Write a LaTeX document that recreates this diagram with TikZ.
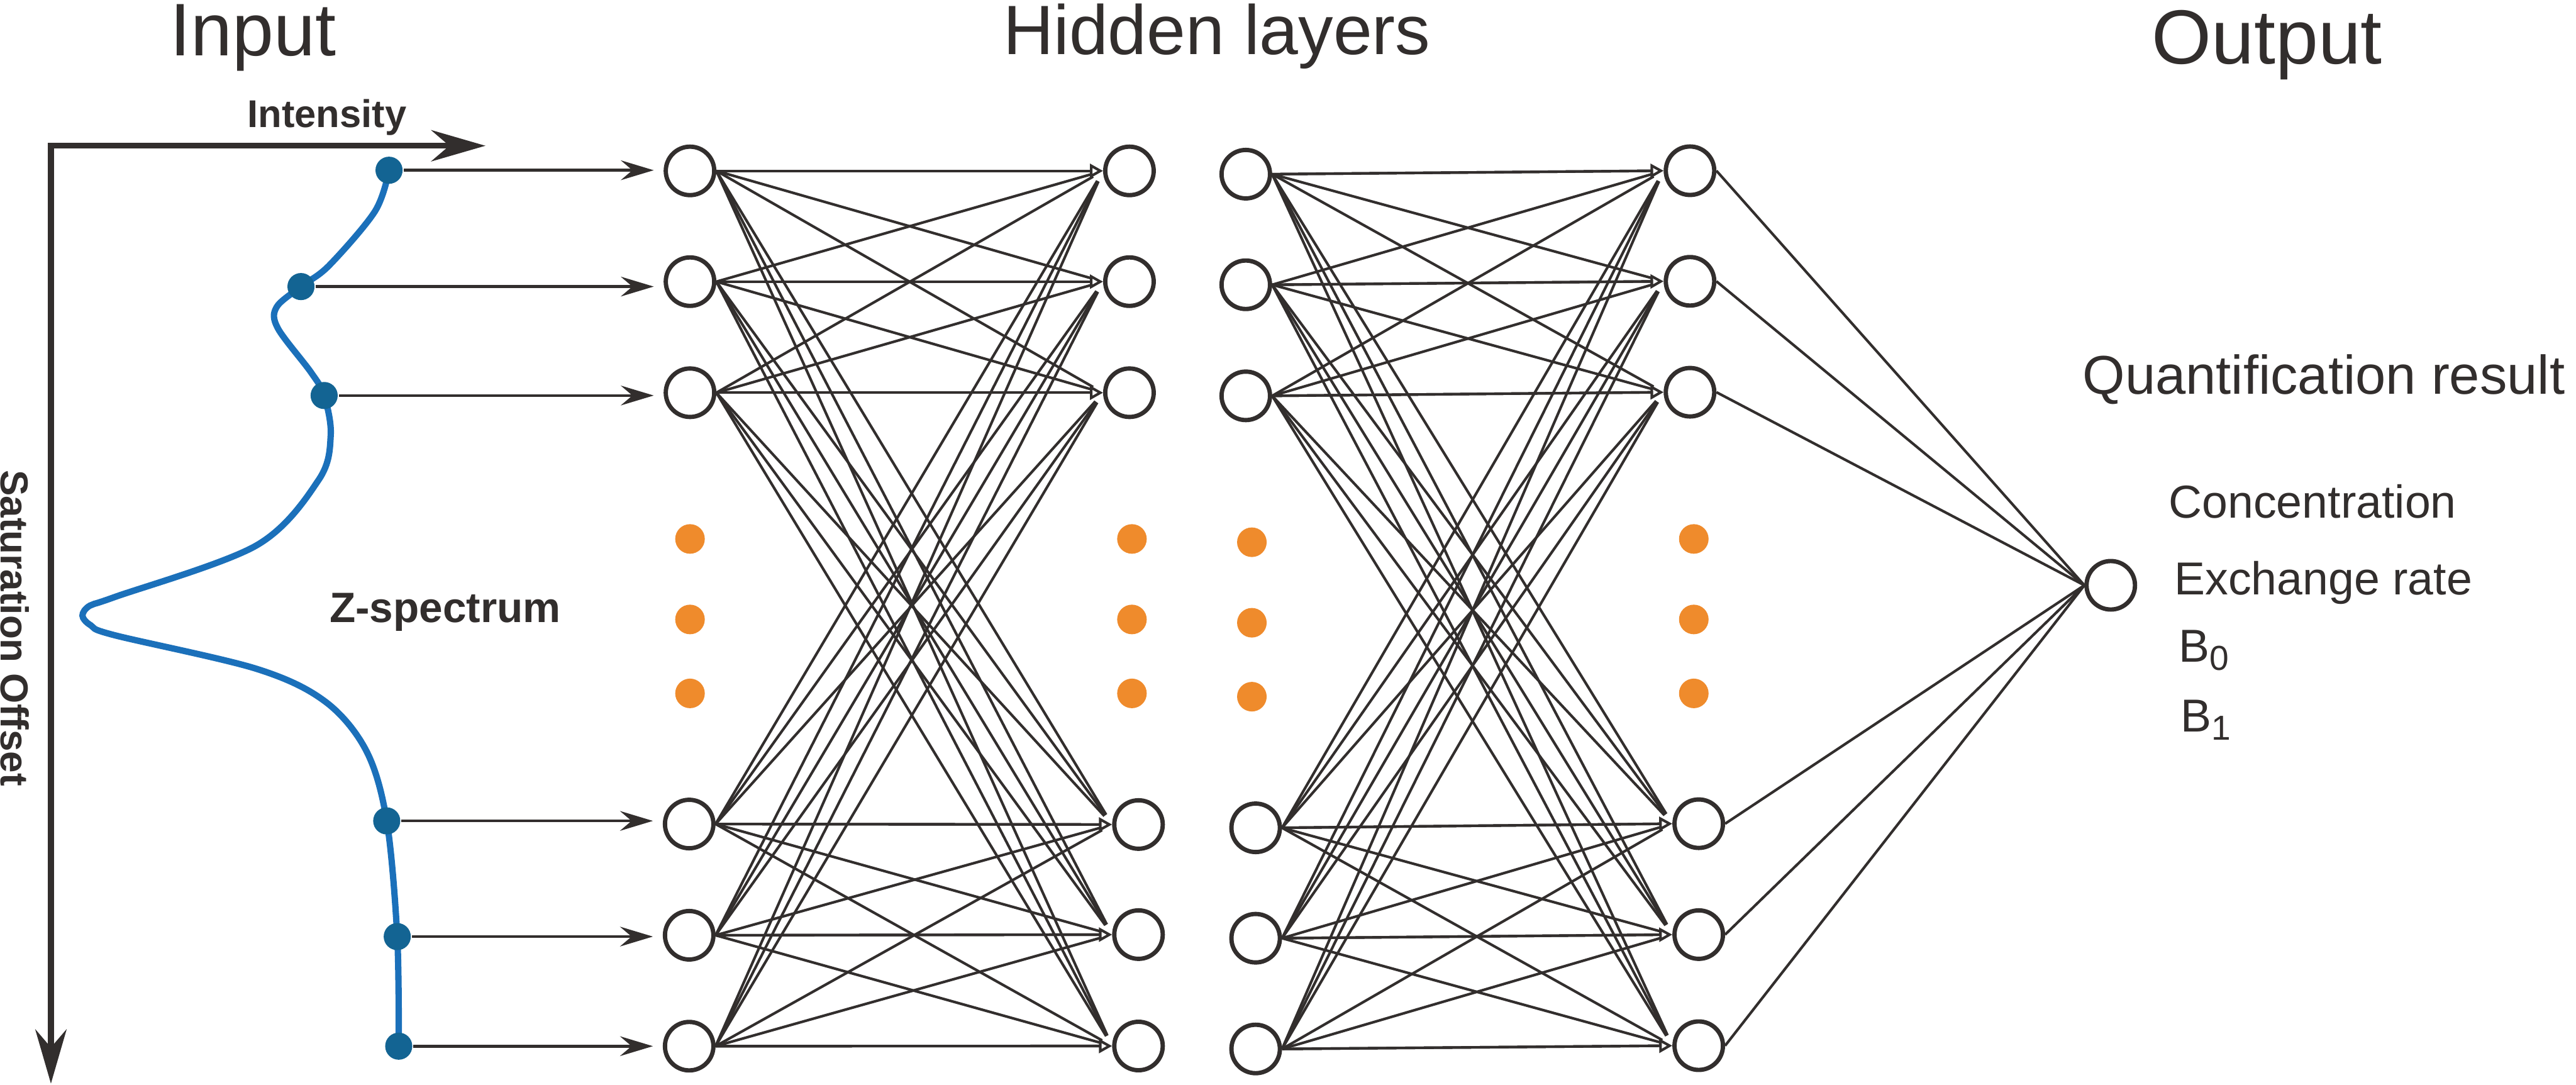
\documentclass[tikz,border=0pt]{standalone}
\usepackage{fontspec}
\setmainfont{Liberation Sans}
\usetikzlibrary{arrows.meta,calc}
\definecolor{nninkgray}{HTML}{322E2D}
\definecolor{nnzblue}{HTML}{1B70BA}
\definecolor{nndotblue}{HTML}{136493}
\definecolor{nnorange}{HTML}{EF8B2C}

\begin{document}
\begin{tikzpicture}[
    neuron/.style={draw=nninkgray, circle, line width=0.75pt, minimum size=2.95mm, inner sep=0pt, fill=white},
    ellip/.style={circle, fill=nnorange, minimum size=1.8mm, inner sep=0pt},
    sample/.style={circle, fill=nndotblue, minimum size=1.65mm, inner sep=0pt},
    link/.style={draw=nninkgray, line width=0.45pt, shorten >=0.7mm},
    linktip/.style={draw=nninkgray, line width=0.45pt, -{Triangle[open, length=0.8mm, width=0.85mm]}},
    feed/.style={draw=nninkgray, line width=0.5pt, -{Stealth[length=2mm, width=1.2mm, inset=0.7mm]}, shorten >=0.6mm},
    axisline/.style={draw=nninkgray, line width=1pt, >={Stealth[length=3.3mm, width=1.9mm, inset=1.1mm]}, <->},
    title/.style={anchor=base west, inner sep=0pt, text=nninkgray},
    label/.style={anchor=base west, inner sep=0pt, text=nninkgray, font=\fontsize{8}{9.6}\selectfont},
    axislabel/.style={anchor=base, inner sep=0pt, text=nninkgray, font=\bfseries\fontsize{6.7}{8}\selectfont},
]
\useasboundingbox (0,0) rectangle (15.68,-6.60);

% Titles
\node[title, font=\fontsize{12.9}{15}\selectfont] (ttl-in) at (1.03,-0.34) {Input};
\node[title, font=\fontsize{12.1}{14}\selectfont] (ttl-hid) at (6.10,-0.33) {Hidden layers};
\node[title, font=\fontsize{13.3}{16}\selectfont] (ttl-out) at (13.09,-0.39) {Output};

% Z-spectrum axes
\coordinate (xtip) at (2.955,-0.887);
\coordinate (corner) at (0.31,-0.887);
\coordinate (ytip) at (0.31,-6.595);
\draw[axisline] (xtip) -- (corner) -- (ytip);
\node[axislabel] (ilab) at (1.99,-0.775) {Intensity};
\node[axislabel, rotate=-90, font=\bfseries\fontsize{6.75}{8}\selectfont] (slab) at (0.005,-3.823) {Saturation Offset};
\node[axislabel, anchor=base west, font=\bfseries\fontsize{7.35}{9}\selectfont] (zlab) at (2.00,-3.788) {Z-spectrum};

% Z-spectrum curve
\draw[nnzblue, line width=1.1pt] plot[smooth, tension=0.55] coordinates {
    (2.368,-1.036) (2.283,-1.285) (2.003,-1.616) (1.832,-1.744) (1.683,-1.87)
    (1.692,-1.999) (1.893,-2.266) (1.973,-2.407) (2.013,-2.65) (1.94,-2.92)
    (1.56,-3.32) (0.694,-3.635) (0.547,-3.686) (0.502,-3.747) (0.553,-3.806)
    (0.694,-3.865) (1.56,-4.07) (1.98,-4.27) (2.23,-4.57) (2.354,-4.996)
    (2.418,-5.70) (2.427,-6.367)};

% Sampled offsets
\foreach \n/\x/\y in {1/2.368/1.036, 2/1.832/1.744, 3/1.973/2.407, 4/2.354/4.996, 5/2.418/5.70, 6/2.427/6.367}
    \node[sample] (d\n) at (\x,-\y) {};

% Layers
\foreach \n/\x/\y in {1/4.20/1.04, 2/4.20/1.714, 3/4.20/2.39, 4/4.195/5.015, 5/4.195/5.692, 6/4.195/6.367}
    \node[neuron] (l1-\n) at (\x,-\y) {};
\foreach \n/\x/\y in {1/6.875/1.04, 2/6.875/1.714, 3/6.875/2.39, 4/6.93/5.018, 5/6.93/5.688, 6/6.93/6.366}
    \node[neuron] (l2-\n) at (\x,-\y) {};
\foreach \n/\x/\y in {1/7.583/1.06, 2/7.583/1.733, 3/7.583/2.409, 4/7.643/5.038, 5/7.643/5.71, 6/7.643/6.384}
    \node[neuron] (l3-\n) at (\x,-\y) {};
\foreach \n/\x/\y in {1/10.287/1.039, 2/10.287/1.712, 3/10.287/2.387, 4/10.34/5.013, 5/10.34/5.688, 6/10.34/6.364}
    \node[neuron] (l4-\n) at (\x,-\y) {};
\node[neuron] (out) at (12.848,-3.562) {};

% Ellipsis dots
\foreach \x/\s [count=\c] in {4.20/0, 6.89/0, 7.62/0.02, 10.31/0}
    \foreach \y [count=\r] in {3.28, 3.77, 4.22}
        \node[ellip] (gap-\c-\r) at (\x,-\y-\s) {};

% Connections
\foreach \n in {1,...,6}
    \draw[feed] (d\n) -- (d\n -| l1-\n.west);
\foreach \i in {1,...,6}
    \foreach \j in {1,...,6} {
        \draw[link] (l1-\i.east) -- (l2-\j.west);
        \draw[link] (l3-\i.east) -- (l4-\j.west);
    }
\foreach \i in {1,...,6} {
    \draw[linktip] (l1-\i.east) -- (l2-\i.west);
    \draw[linktip] (l3-\i.east) -- (l4-\i.west);
    \draw[link, shorten >=0pt] (l4-\i.east) -- (out.west);
}

% Output labels
\node[title, font=\fontsize{9.45}{11}\selectfont] (quant) at (12.67,-2.40) {Quantification result};
\node[label] (conc) at (13.194,-3.154) {Concentration};
\node[label] (kex) at (13.228,-3.62) {Exchange rate};
\node[label] (bzero) at (13.254,-4.03) {B\textsubscript{0}};
\node[label] (bone) at (13.268,-4.454) {B\textsubscript{1}};

\end{tikzpicture}
\end{document}
